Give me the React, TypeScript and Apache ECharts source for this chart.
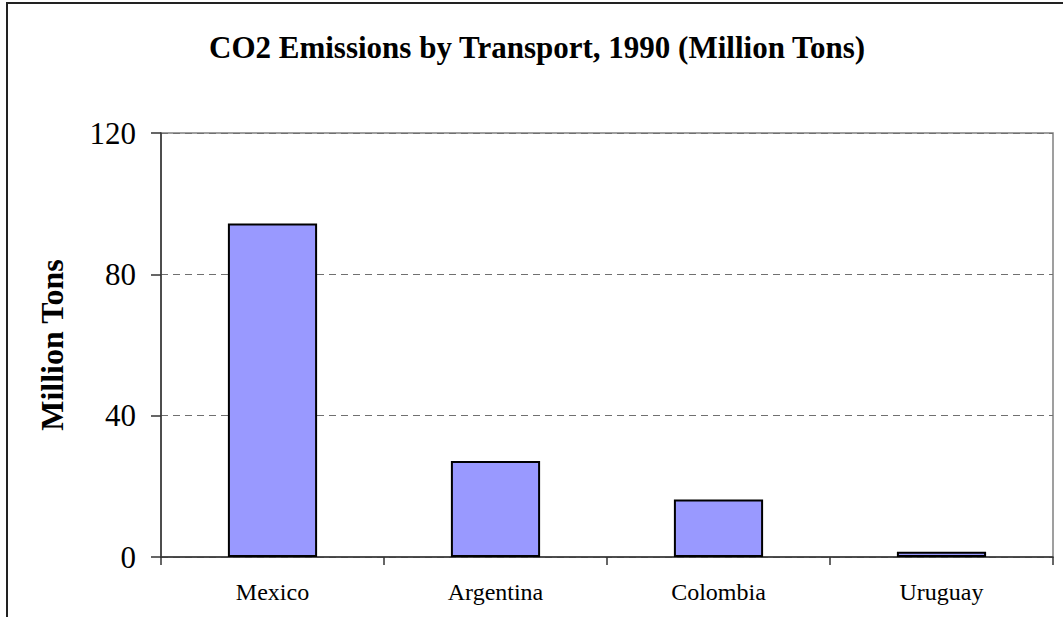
import React, { useEffect, useRef } from "react";
import * as echarts from "echarts";

const categories = ["Mexico", "Argentina", "Colombia", "Uruguay"];
const emissions = [94.4, 27.2, 16.3, 1.5];
const yTicks = { min: 0, max: 120, interval: 40 };
const titleText = "CO2 Emissions by Transport, 1990 (Million Tons)";
const yAxisName = "Million Tons";

export default function App() {
  const ref = useRef<HTMLDivElement>(null);
  useEffect(() => {
    const chart = echarts.init(ref.current!, null, { renderer: "svg" });
    const serif = "'Liberation Serif', 'Times New Roman', serif";
    chart.setOption({
      animation: false,
      backgroundColor: "#ffffff",
      title: {
        text: titleText,
        left: 209,
        top: 32,
        padding: 0,
        textStyle: {
          fontFamily: serif,
          fontSize: 31,
          fontWeight: "bold",
          color: "#000",
          lineHeight: 31,
        },
      },
      graphic: [
        {
          type: "rect",
          shape: { x: 7, y: 3, width: 1080, height: 640 },
          style: { fill: "none", stroke: "#222", lineWidth: 2 },
          silent: true,
        },
      ],
      grid: {
        left: 161,
        top: 133,
        right: 10,
        bottom: 60,
        show: true,
        borderColor: "#808080",
        borderWidth: 1.5,
        backgroundColor: "transparent",
      },
      xAxis: {
        type: "category",
        data: categories,
        axisLine: { show: true, lineStyle: { color: "#333", width: 1.5 } },
        axisTick: { show: true, length: 8, lineStyle: { color: "#333", width: 1.5 } },
        axisLabel: {
          fontFamily: serif,
          fontSize: 24,
          color: "#000",
          margin: 23,
        },
        splitLine: { show: false },
      },
      yAxis: {
        type: "value",
        min: yTicks.min,
        max: yTicks.max,
        interval: yTicks.interval,
        name: yAxisName,
        nameLocation: "middle",
        nameGap: 93,
        nameRotate: 90,
        nameTextStyle: {
          fontFamily: serif,
          fontSize: 32,
          fontWeight: "bold",
          color: "#000",
        },
        axisLine: { show: true, lineStyle: { color: "#333", width: 1.5 } },
        axisTick: { show: true, length: 10, lineStyle: { color: "#333", width: 1.5 } },
        axisLabel: {
          fontFamily: serif,
          fontSize: 31,
          color: "#000",
          margin: 25,
        },
        splitLine: {
          show: true,
          lineStyle: { color: "#707070", type: [7, 5], width: 1 },
        },
      },
      series: [
        {
          type: "bar",
          data: emissions,
          barCategoryGap: "60%",
          itemStyle: {
            color: "#9999FF",
            borderColor: "#000",
            borderWidth: 2,
          },
        },
      ],
    });
    return () => chart.dispose();
  }, []);
  return (
    <div
      ref={ref}
      style={{ position: "fixed", left: 0, top: 0, width: 1063, height: 617 }}
    />
  );
}
